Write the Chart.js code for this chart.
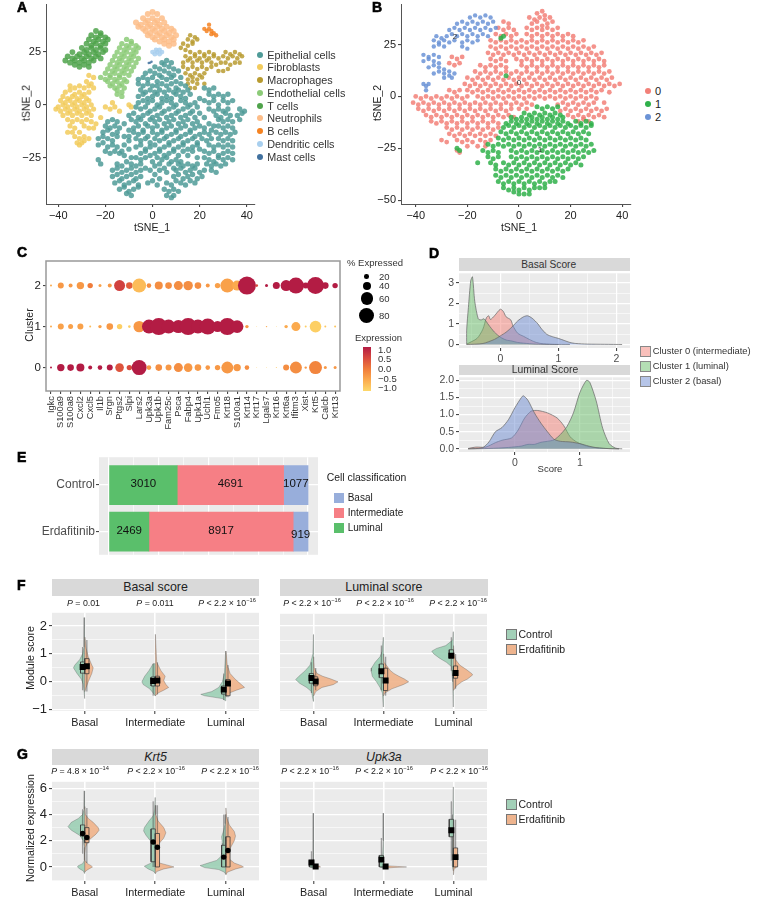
<!DOCTYPE html>
<html>
<head>
<meta charset="utf-8">
<title>Panels</title>
<script src="https://cdn.jsdelivr.net/npm/chart.js@4/dist/chart.umd.min.js"></script>
<style>
  html,body{margin:0;padding:0;background:#fff;}
  #page{position:relative;width:764px;height:901px;overflow:hidden;font-family:"Liberation Sans",Arial,sans-serif;}
  #page canvas{position:absolute;}
  .t{position:absolute;white-space:nowrap;line-height:1;}
  .t sup{font-size:.65em;line-height:0;}
  .box{position:absolute;}
</style>
</head>
<body>
<div id="page"></div>
<script>
// ---- panel A : tSNE by cell type (x,y pairs)
const cellTypes = ['Epithelial cells','Fibroblasts','Macrophages','Endothelial cells','T cells','Neutrophils','B cells','Dendritic cells','Mast cells'];
const cellColors = ['#4f9b98','#f2cb5c','#b89b30','#8ccb78','#4fa34b','#fdbd88','#f58322','#a8cfee','#41719f'];
const epithelialPts = [
4,20,6,21,8,20,
1,18,3,17,5,19,7,18,9,17,
-3,15,-1,16,1,15,3,14,5,16,7,15,9,14,11,16,
-6,12,-4,13,-2,12,0,13,2,11,4,13,6,12,8,13,10,11,12,13,
-6,10,-4,9,-2,10,0,9,2,9,4,10,6,9,8,10,10,8,12,10,14,9,
-5,7,-3,6,-1,7,1,6,3,7,5,6,7,7,9,6,11,7,13,6,15,7,22,8,24,7,26,8,
-6,4,-4,5,-2,3,0,4,2,5,4,3,6,4,8,3,10,5,12,4,14,3,16,5,24,5,26,4,28,5,30,4,32,5,
-6,1,-4,2,-2,1,0,2,2,0,4,1,6,2,8,1,10,0,12,2,14,1,16,0,22,2,24,1,26,2,28,0,30,2,32,1,34,2,
-7,-1,-5,-2,-3,-1,-1,-3,1,-2,3,-1,5,-3,7,-2,9,-1,11,-3,13,-2,15,-1,17,-3,24,-2,26,-3,28,-2,30,-3,32,-2,37,-2,39,-3,
-10,-5,-8,-4,-6,-6,-4,-5,-2,-4,0,-6,2,-5,4,-4,6,-6,8,-5,10,-4,12,-6,14,-5,16,-4,18,-6,27,-5,29,-6,31,-4,33,-5,36,-5,38,-4,
-19,-8,-17,-7,-15,-8,-9,-7,-7,-8,-5,-7,-3,-9,-1,-7,1,-8,3,-7,5,-9,7,-8,9,-7,11,-9,13,-8,15,-7,17,-9,19,-8,28,-7,30,-8,32,-7,34,-8,37,-7,
-20,-10,-18,-11,-16,-10,-14,-11,-8,-11,-6,-10,-4,-12,-2,-10,0,-11,2,-10,4,-12,6,-11,8,-10,10,-12,12,-11,14,-10,16,-12,18,-11,20,-10,28,-10,30,-11,32,-10,34,-11,
-21,-13,-19,-12,-17,-14,-15,-13,-8,-13,-6,-14,-4,-13,-2,-15,0,-13,2,-14,4,-13,6,-15,8,-14,10,-13,12,-15,14,-14,16,-13,18,-15,20,-14,22,-13,24,-14,27,-13,29,-14,31,-13,33,-14,35,-13,
-23,-16,-21,-15,-19,-16,-17,-17,-15,-15,-7,-16,-5,-17,-3,-16,-1,-18,1,-16,3,-17,5,-16,7,-18,9,-17,11,-16,13,-18,15,-17,17,-16,19,-18,21,-16,23,-17,25,-16,28,-16,30,-17,32,-16,34,-17,
-23,-19,-21,-18,-19,-20,-17,-19,-15,-20,-7,-20,-5,-19,-3,-21,-1,-20,1,-19,3,-21,5,-20,7,-19,9,-21,11,-20,13,-19,15,-21,17,-20,19,-19,24,-19,26,-20,28,-19,30,-20,32,-19,34,-20,
-20,-22,-18,-23,-16,-22,-14,-23,-5,-23,-3,-22,-1,-24,1,-23,3,-22,5,-24,7,-23,9,-22,11,-24,22,-22,24,-23,26,-22,28,-24,30,-23,32,-22,34,-23,
-23,-26,-22,-28,-7,-25,-5,-26,-3,-25,0,-27,2,-25,4,-26,6,-25,8,-27,10,-26,22,-25,24,-26,26,-27,28,-25,30,-26,32,-25,34,-26,
-15,-28,-13,-29,-11,-27,-9,-28,-7,-29,-5,-28,1,-29,3,-28,5,-30,7,-28,11,-28,13,-29,15,-28,17,-29,19,-28,23,-28,25,-29,27,-28,29,-29,31,-28,
-17,-31,-15,-30,-13,-32,-11,-31,-9,-30,-7,-32,-5,-31,-3,-30,3,-31,6,-32,10,-31,12,-30,14,-32,16,-31,18,-30,20,-32,22,-31,25,-31,27,-32,
-17,-34,-15,-33,-13,-35,-11,-34,-9,-33,-7,-35,-5,-34,9,-34,11,-33,13,-35,15,-34,17,-33,19,-35,21,-34,
-16,-37,-14,-36,-12,-38,-10,-37,-8,-36,-6,-38,6,-37,8,-38,10,-36,12,-37,14,-38,16,-36,18,-37,
-14,-40,-12,-39,-10,-41,-8,-40,-6,-39,5,-40,7,-41,9,-40,11,-41,
-11,-42,-9,-43,6,-43,8,-44,9,-43,
-12,-9,-10,-12,-12,-15,-10,-17,-12,-19,-10,-21,-12,-24,-9,-25,-10,-15,-13,-22,
20,-4,22,-6,24,-9,26,-10,22,-11,25,-12,13,-22,15,-24,17,-22,19,-25,20,-21,
18,1,20,3,19,-1,-1,-31,1,-33,0,-36,3,-35,-2,-37,2,-38,12,-27,9,-30
];
const fibroblastPts = [
-27,14,-25,13,-28,11,-26,10,-35,9,-33,8,-31,9,-29,8,-27,9,-25,8,
-37,6,-35,7,-33,5,-31,6,-29,5,-27,6,-38,4,-36,3,-34,4,-32,3,-30,4,-28,3,
-39,2,-37,1,-35,2,-33,1,-31,2,-29,1,-27,2,-40,-1,-38,0,-36,-1,-34,0,-32,-1,-30,0,-28,-1,-26,0,
-41,-2,-39,-3,-37,-2,-35,-3,-33,-2,-31,-3,-29,-2,-27,-3,-25,-2,-38,-5,-36,-4,-34,-5,-32,-4,-30,-5,-28,-4,-26,-5,
-36,-7,-34,-8,-32,-7,-30,-8,-28,-7,-26,-8,-24,-9,-35,-10,-33,-11,-29,-10,-27,-11,-25,-11,
-36,-13,-34,-13,-31,-13,-33,-15,-31,-16,-29,-15,-27,-16,-32,-18,-30,-18,-29,-17,-31,-19,
-18,-2,-16,-1,-17,1,-10,0,-9,-1,-14,-3,-20,-1,-22,-6
];
const macrophagePts = [
16,33,18,32,15,31,17,30,19,31,13,29,15,28,17,29,12,27,14,26,
16,25,18,24,20,25,22,24,24,25,26,24,31,25,33,24,35,25,37,24,
14,23,16,22,18,23,20,22,22,23,24,22,26,23,28,22,30,23,32,22,34,23,36,22,38,23,
13,20,15,21,17,20,19,21,21,20,23,21,25,20,27,19,29,20,31,20,33,19,35,20,37,20,
13,18,15,17,17,18,19,17,21,18,23,17,25,18,28,16,30,16,32,17,
14,15,16,14,18,15,20,14,22,15,15,12,17,13,19,12,21,13,15,10,17,11,19,10,22,10,16,8,18,8
];
const endothelialPts = [
-11,31,-9,30,-13,29,-11,28,-9,29,-7,28,-14,27,-12,26,-10,27,-8,26,-6,27,
-15,25,-13,24,-11,25,-9,24,-7,25,-16,23,-14,22,-12,23,-10,22,-8,23,-6,22,
-17,21,-15,20,-13,21,-11,20,-9,21,-7,20,-18,19,-16,18,-14,19,-12,18,-10,19,-8,18,
-19,17,-17,16,-15,17,-13,16,-11,17,-9,16,-20,15,-18,14,-16,15,-14,14,-12,15,-10,14,
-22,13,-20,12,-18,13,-16,12,-14,13,-12,12,-19,11,-17,10,-15,11,-13,10,-11,11,
-18,9,-16,8,-14,9,-12,8,-15,7,-13,6,-15,5,-13,4
];
const tCellPts = [
-24,35,-22,34,-26,33,-24,32,-22,33,-20,32,-27,31,-25,30,-23,31,-21,30,-19,31,
-28,29,-26,28,-24,29,-22,28,-20,29,-30,27,-28,26,-26,27,-24,26,-22,27,-20,26,
-34,25,-31,24,-29,25,-27,24,-25,25,-23,24,-21,25,-36,23,-34,22,-32,23,-30,22,-28,23,-26,22,-24,23,-22,22,
-37,21,-35,20,-33,21,-31,20,-29,21,-27,20,-25,21,-33,19,-31,18,-29,19,-27,18
];
const neutrophilPts = [
-2,43,0,44,2,43,-4,41,-2,40,0,41,2,40,4,41,-7,39,-5,38,-3,39,-1,38,1,39,3,38,5,39,
-6,37,-4,36,-2,37,0,36,2,37,4,36,6,37,8,36,-3,35,-1,34,1,35,3,34,5,35,7,34,9,35,
-2,33,0,32,2,33,4,32,6,33,8,32,10,33,1,31,3,30,5,31,7,30,9,31,5,29,7,28,9,29
];
const bCellPts = [22,36,24,38,24,36,23,35,25,35,26,34,27,33,25,33.5];
const dendriticPts = [0,25,1,24,2,25,3,26,4,25,1.5,26,3,24];
const mastPts = [-1,20,-1.6,19.8,-0.4,20.4];

// ---- panel B : tSNE by cluster
const clusterNames = ['0','1','2'];
const clusterColors = ['#f28078','#2fb04a','#6b93d6'];
const cluster0Pts = [
7,40,9,41,10,39,4,38,6,37,8,38,10,37,12,38,-6,36,-4,35,5,35,7,36,9,34,11,35,13,36,
-8,33,-6,32,-4,33,-2,32,3,33,5,32,7,33,9,32,11,33,13,32,15,33,
-9,30,-7,29,-5,30,-3,29,-1,30,3,30,5,29,7,30,9,29,11,30,13,29,15,30,17,29,19,30,21,29,
-11,27,-9,26,-7,27,-5,26,-3,27,-1,26,1,27,3,26,5,27,7,26,9,27,11,26,13,27,15,26,17,27,19,26,21,27,23,26,25,27,
-11,24,-9,23,-7,24,-5,23,-3,24,-1,23,1,24,3,23,5,24,7,23,9,24,11,23,13,24,15,23,17,24,19,23,21,24,23,23,25,24,27,23,29,24,
-12,21,-10,20,-8,21,-6,20,-4,21,-2,20,0,21,2,20,4,21,6,20,8,21,10,20,12,21,14,20,16,21,18,20,20,21,22,20,24,21,26,20,28,21,30,20,32,21,
-26,19,-24,18,-22,19,-11,18,-9,17,-7,18,-5,17,-1,18,1,17,3,18,5,17,7,18,9,17,11,18,13,17,15,18,17,17,19,18,21,17,23,18,25,17,27,18,29,17,31,18,33,17,
-27,16,-25,15,-23,16,-15,15,-13,14,-11,15,-9,14,-7,15,-5,14,1,15,3,14,5,15,7,14,9,15,11,14,13,15,15,14,17,15,19,14,21,15,23,14,25,15,27,14,29,15,31,14,33,15,
-17,12,-15,11,-13,12,-11,11,-9,12,-7,11,-5,12,-3,11,-1,12,1,11,3,12,5,11,7,12,9,11,11,12,13,11,15,12,17,11,19,12,21,11,23,12,25,11,27,12,29,11,31,12,33,11,35,12,
-20,9,-18,8,-16,9,-14,8,-12,9,-10,8,-8,9,-6,8,-4,9,-2,8,0,9,2,8,4,9,6,8,8,9,10,8,12,9,14,8,16,9,18,8,20,9,22,8,24,9,26,8,28,9,30,8,32,9,34,8,36,9,
-21,6,-19,5,-17,6,-15,5,-13,6,-11,5,-9,6,-7,5,-5,6,-3,5,-1,6,1,5,3,6,5,5,7,6,9,5,11,6,13,5,15,6,17,5,19,6,21,5,23,6,25,5,27,6,29,5,31,6,33,5,35,6,37,5,39,6,
-27,3,-25,2,-23,3,-20,3,-18,2,-16,3,-14,2,-12,3,-10,2,-8,3,-6,2,-4,3,-2,2,0,3,2,2,4,3,6,2,8,3,10,2,12,3,14,2,16,3,18,2,20,3,22,2,24,3,26,2,28,3,30,2,32,3,35,2,
-40,0,-38,-1,-36,0,-34,-1,-32,0,-30,-1,-28,0,-26,-1,-24,0,-22,-1,-20,0,-16,0,-14,-1,-12,0,-10,-1,-8,0,-6,-1,-4,0,-2,-1,0,0,2,-1,4,0,6,-1,8,0,10,-1,12,0,14,-1,16,0,18,-1,20,0,22,-1,24,0,26,-1,28,0,30,-1,
-41,-3,-39,-4,-37,-3,-35,-4,-33,-3,-31,-4,-29,-3,-27,-4,-25,-3,-23,-4,-21,-3,-19,-4,-17,-3,-15,-4,-13,-3,-11,-4,-9,-3,-7,-4,-5,-3,-3,-4,-1,-3,1,-4,3,-3,5,-4,15,-4,17,-3,19,-4,21,-3,23,-4,25,-3,27,-4,29,-3,33,-3,
-39,-6,-37,-7,-35,-6,-33,-7,-31,-6,-29,-7,-27,-6,-25,-7,-23,-6,-21,-7,-19,-6,-17,-7,-15,-6,-13,-7,-11,-6,-9,-7,-7,-6,-5,-7,-3,-6,0,-6,3,-6,16,-7,18,-6,20,-7,22,-6,24,-7,26,-6,28,-7,30,-6,32,-7,34,-6,
-36,-9,-34,-10,-32,-9,-30,-10,-28,-9,-26,-10,-24,-9,-22,-10,-20,-9,-18,-10,-16,-9,-14,-10,-12,-9,-10,-10,-8,-9,-6,-10,-4,-9,-2,-10,19,-9,21,-10,23,-9,25,-10,27,-9,29,-10,31,-9,33,-10,
-34,-12,-32,-13,-30,-12,-28,-13,-26,-12,-24,-13,-22,-12,-20,-13,-18,-12,-16,-13,-14,-12,-12,-13,-10,-12,-8,-13,23,-12,25,-11,27,-12,
-28,-15,-26,-16,-24,-15,-22,-16,-20,-15,-18,-16,-16,-15,-14,-16,-12,-15,-10,-16,-8,-15,
-27,-18,-25,-19,-23,-18,-21,-19,-19,-18,-17,-19,-15,-18,-13,-19,-11,-18,-9,-19,
-30,-21,-28,-22,-24,-21,-22,-22,-20,-21,-18,-22,-15,-21,-13,-22,-11,-21,-20,-24,-16,-24,-13,-24,
-24,-26,-23,-27
];
const cluster1Pts = [
7,-5,9,-6,11,-5,13,-6,15,-5,2,-8,4,-9,6,-8,8,-9,10,-8,12,-9,14,-8,16,-9,
-3,-10,-1,-11,1,-10,3,-11,5,-10,7,-11,9,-10,11,-11,13,-10,15,-11,17,-10,
-5,-13,-3,-12,-1,-13,1,-12,3,-13,5,-12,7,-13,9,-12,11,-13,13,-12,15,-13,17,-12,19,-13,22,-12,24,-13,26,-12,28,-13,
-6,-15,-4,-14,-2,-15,0,-14,2,-15,4,-14,6,-15,8,-14,10,-15,12,-14,14,-15,16,-14,18,-15,20,-14,22,-15,24,-14,26,-15,28,-14,
-7,-17,-5,-18,-3,-17,-1,-18,1,-17,3,-18,5,-17,7,-18,9,-17,11,-18,13,-17,15,-18,17,-17,19,-18,21,-17,23,-18,25,-17,27,-18,
-8,-20,-6,-21,-4,-20,-2,-21,0,-20,2,-21,4,-20,6,-21,8,-20,10,-21,12,-20,14,-21,16,-20,18,-21,20,-20,22,-21,24,-20,26,-21,
-12,-23,-10,-24,-8,-23,-6,-24,-4,-23,-2,-24,0,-23,2,-24,4,-23,6,-24,8,-23,10,-24,12,-23,14,-24,16,-23,18,-24,20,-23,22,-24,24,-23,26,-24,28,-23,
-14,-26,-12,-27,-10,-26,-8,-27,-3,-26,-1,-27,1,-26,3,-27,5,-26,7,-27,9,-26,11,-27,13,-26,15,-27,17,-26,19,-27,21,-26,23,-27,25,-26,27,-27,29,-26,
-12,-29,-10,-30,-8,-29,-3,-29,-1,-30,1,-29,3,-30,5,-29,7,-30,9,-29,11,-30,13,-29,15,-30,17,-29,19,-30,21,-29,23,-30,25,-29,
-11,-32,-9,-33,-6,-32,-4,-33,-2,-32,0,-33,2,-32,4,-33,6,-32,8,-33,10,-32,12,-33,14,-32,16,-33,18,-32,20,-33,22,-32,24,-33,
-9,-35,-7,-36,-5,-35,-3,-36,-1,-35,1,-36,3,-35,5,-36,7,-35,9,-36,11,-35,13,-36,15,-35,17,-36,19,-35,
-9,-38,-7,-39,-5,-38,-3,-39,-1,-38,1,-39,3,-38,5,-39,7,-38,9,-39,11,-38,13,-39,15,-38,17,-39,
-8,-41,-6,-42,-4,-41,-2,-42,0,-41,2,-42,4,-41,6,-42,8,-41,10,-42,12,-41,14,-41,
-6,-44,-4,-45,-2,-44,0,-45,2,-44,4,-45,6,-44,8,-44,10,-44,-2,-46,0,-47,2,-47,4,-47,
-24,-25,-23,-26,-16,-32,-7,28,-6,29,-5,10
];
const cluster2Pts = [
-19,38,-17,39,-15,38,-13,39,-11,38,-24,35,-22,36,-20,35,-18,36,-16,35,-14,36,-12,35,-10,36,
-27,32,-25,33,-23,32,-21,33,-19,32,-17,33,-15,32,-13,33,-11,32,-9,33,
-32,29,-30,28,-28,29,-26,30,-24,29,-22,30,-20,29,-18,30,-16,29,-14,30,-12,29,
-33,27,-31,26,-29,27,-27,26,-25,27,-22,26,-20,27,-18,26,-16,27,-33,24,-31,25,-29,24,-22,24,-20,23,
-37,20,-35,19,-33,20,-31,19,-37,17,-35,18,-33,17,-31,16,-35,14,-33,15,-31,14,-29,13,
-33,11,-31,12,-29,11,-27,12,-25,11,-29,9,-27,10,-26,9,-37,6,-36,5,-35,6,-36,3
];

// ---- panel C : dot plot
const genes = ['Igkc','S100a9','S100a8','Cxcl2','Cxcl5','Il1b','Srgn','Ptgs2','Slpi','Lars2','Upk3a','Upk1b','Fam25c','Psca','Fabp4','Upk1a','Uchl1','Fmo5','Krt18','S100a1','Krt14','Krt17','Lgals7','Krt16','Krt6a','Ifitm3','Xist','Krt5','Calcb','Krt13'];
const pct0 = [7,34,30,37,17,20,27,40,24,72,20,30,27,42,40,30,20,24,57,34,20,1,1,2,27,57,9,62,12,12];
const expr0 = [1,1,1,1,1,1,1,.4,.5,1,-.3,-.2,-.3,-.2,-.3,-.3,-.3,-.3,-.3,-.3,-.2,-.9,-.9,-.8,-.2,-.2,-.3,-.1,-.3,-.3];
const pct1 = [7,27,22,27,7,14,30,24,10,54,67,82,67,62,82,67,77,52,82,60,14,1,4,1,14,42,7,55,7,7];
const expr1 = [-.5,-.4,-.4,-.4,-.7,-.4,-.3,-.9,-.9,-.3,1,1,1,1,1,1,1,1,1,1,-.3,-.9,-.5,-.9,-.5,-.5,-.9,-.9,-.8,-.8];
const pct2 = [7,27,17,34,24,12,17,52,30,67,20,37,30,42,44,30,17,24,67,47,87,10,12,32,52,77,27,82,30,24];
const expr2 = [-.5,-.3,-.3,-.3,0,-.4,-.3,.6,.3,-.7,-.2,-.2,-.2,-.2,-.2,-.2,-.3,-.4,-.4,-.5,1,.5,1,1,1,1,1,1,1,1];

// ---- panel D : densities
const basalRed = [[-.58,.02],[-.4,.3],[-.3,.75],[-.24,1.3],[-.2,1.4],[-.17,1.22],[-.1,1.4],[0,1.72],[.05,1.62],[.1,1.35],[.18,1.2],[.22,.9],[.3,.55],[.4,.4],[.5,.25],[.6,.12],[.7,.05],[.9,.01],[1.2,0]];
const basalGreen = [[-.58,0],[-.58,.7],[-.55,1.8],[-.51,3.1],[-.48,3.3],[-.44,2.1],[-.38,1.25],[-.33,1.2],[-.28,1.25],[-.2,.95],[-.1,.6],[0,.36],[.1,.22],[.2,.17],[.3,.1],[.5,.04],[.7,.01],[1,0]];
const basalBlue = [[-.58,0],[-.3,.05],[-.1,.25],[0,.42],[.1,.6],[.2,.85],[.3,1.15],[.4,1.35],[.47,1.4],[.55,1.28],[.65,1],[.7,.8],[.8,.5],[.9,.38],[1,.3],[1.1,.2],[1.2,.1],[1.3,.05],[1.5,.02],[1.8,.01],[2.1,0]];
const lumRed = [[-.72,.01],[-.6,.05],[-.45,.05],[-.3,.18],[-.2,.25],[-.05,.32],[.05,.55],[.15,.9],[.25,1.1],[.35,1.12],[.5,1.05],[.65,.9],[.75,.68],[.85,.35],[.95,.2],[1.1,.08],[1.3,.02],[1.6,0]];
const lumGreen = [[-.72,0],[-.4,.01],[-.1,.04],[.1,.08],[.2,.13],[.3,.13],[.4,.19],[.5,.22],[.6,.26],[.7,.42],[.8,.65],[.9,1.05],[1,1.65],[1.1,2],[1.15,1.95],[1.25,1.4],[1.35,.6],[1.45,.15],[1.55,.02],[1.65,0]];
const lumBlue = [[-.72,0],[-.5,.03],[-.4,.2],[-.3,.5],[-.2,.62],[-.1,.85],[0,1.2],[.1,1.5],[.13,1.55],[.2,1.42],[.3,1.05],[.4,.75],[.5,.5],[.6,.28],[.7,.22],[.85,.2],[1,.15],[1.2,.05],[1.4,.01],[1.6,0]];
const clusterLegend = ['Cluster 0 (intermediate)','Cluster 1 (luminal)','Cluster 2 (basal)'];

// ---- panel E : stacked bars
const conditions = ['Control','Erdafitinib'];
const luminalCounts = [3010,2469];
const intermediateCounts = [4691,8917];
const basalCounts = [1077,919];

// ---- panels F, G : split violins as [y, half width] and boxes as [q1, mean, q3, low, high]
const groups = ['Basal','Intermediate','Luminal'];
const fBasalViolins = [
 [[2.3,.003],[1.25,.01],[1,.03],[.8,.07],[.6,.14],[.5,.16],[.3,.11],[.1,.05],[-.1,.02],[-.4,.008],[-.6,.002]],
 [[1.6,.003],[1.2,.02],[.9,.05],[.6,.1],[.5,.12],[.3,.1],[0,.05],[-.2,.02],[-.35,.003]],
 [[.65,.03],[.4,.09],[.2,.15],[0,.19],[-.1,.17],[-.25,.08],[-.4,.03],[-.5,.003]],
 [[1.7,.002],[.7,.02],[.4,.08],[.2,.14],[.05,.12],[-.1,.15],[-.2,.19],[-.3,.12],[-.4,.04],[-.5,.003]],
 [[1.1,.002],[.3,.02],[0,.05],[-.2,.1],[-.35,.2],[-.45,.355],[-.5,.3],[-.6,.05],[-.68,.003]],
 [[1.1,.002],[.6,.02],[.3,.06],[.1,.13],[-.1,.22],[-.2,.265],[-.3,.15],[-.4,.05],[-.5,.01],[-.55,.002]]
];
const fBasalBoxes = [[.31,.53,.71,-.3,1.25],[.29,.56,.83,-.35,1.5],[-.15,.03,.17,-.5,.65],[-.15,.05,.2,-.45,.7],[-.44,-.28,-.15,-.65,.3],[-.5,-.06,.08,-.55,.6]];
const fLuminalViolins = [
 [[1.7,.002],[1,.01],[.6,.05],[.4,.12],[.2,.21],[.08,.256],[-.05,.2],[-.2,.1],[-.35,.03],[-.7,.003]],
 [[.9,.003],[.5,.01],[.3,.05],[.2,.13],[.1,.25],[0,.35],[-.1,.28],[-.2,.12],[-.35,.03],[-.5,.003]],
 [[1.6,.003],[1.1,.02],[.9,.05],[.7,.12],[.5,.17],[.38,.175],[.2,.16],[0,.1],[-.2,.05],[-.4,.015],[-.9,.003]],
 [[1,.003],[.7,.01],[.4,.1],[.3,.15],[.2,.22],[.1,.3],[0,.36],[-.1,.28],[-.25,.12],[-.4,.02],[-.5,.003]],
 [[1.8,.003],[1.5,.01],[1.3,.11],[1.2,.24],[1.1,.31],[1,.28],[.85,.2],[.7,.1],[.55,.03],[.3,.02],[0,.01],[-.9,.002]],
 [[1.3,.003],[1,.01],[.8,.03],[.6,.09],[.45,.18],[.3,.26],[.25,.275],[.1,.2],[0,.12],[-.15,.04],[-.3,.005]]
];
const fLuminalBoxes = [[-.05,.14,.3,-.4,.7],[-.14,.01,.18,-.3,.5],[.15,.38,.64,-.3,1.3],[-.31,.05,.49,-.5,.9],[.84,.94,1.15,.4,1.6],[.13,.32,.57,-.25,1]];
const gKrt5Violins = [
 [[5.8,.002],[4.4,.008],[4,.03],[3.7,.09],[3.4,.19],[3.07,.237],[2.8,.19],[2.4,.07],[2,.02],[1.5,.006],[1,.004],[.5,.005],[.25,.03],[.1,.09],[0,.104],[-.15,.07],[-.3,.02],[-.5,.002]],
 [[4.6,.002],[4,.01],[3.7,.05],[3.4,.12],[3,.19],[2.8,.204],[2.5,.16],[2,.05],[1.5,.01],[1,.003],[.5,.005],[.25,.04],[.1,.09],[0,.11],[-.15,.06],[-.3,.015],[-.4,.002]],
 [[5.3,.002],[4.4,.01],[3.9,.03],[3.5,.09],[3,.155],[2.75,.166],[2.4,.13],[2,.07],[1.5,.02],[1,.01],[.5,.02],[.25,.08],[.05,.156],[-.15,.1],[-.35,.02],[-.5,.002]],
 [[4.7,.002],[4,.008],[3.5,.04],[3,.12],[2.6,.15],[2.2,.12],[1.7,.04],[1.2,.01],[.7,.01],[.3,.06],[.1,.2],[0,.265],[-.15,.12],[-.35,.02],[-.5,.002]],
 [[4,.002],[3.3,.01],[2.8,.03],[2.3,.06],[1.8,.05],[1.2,.05],[.8,.07],[.5,.13],[.3,.25],[.1,.365],[-.05,.3],[-.2,.1],[-.4,.02],[-.55,.002]],
 [[4.5,.002],[3.8,.01],[3.2,.05],[2.7,.12],[2.35,.137],[2,.12],[1.5,.07],[1,.05],[.6,.05],[.3,.12],[.1,.22],[0,.25],[-.15,.14],[-.4,.02],[-.6,.002]]
];
const gKrt5Boxes = [[2.35,2.55,3.2,1,4.4],[1.85,2.25,3,.3,4.5],[.4,1.9,2.9,0,5],[0,1.5,2.55,0,4.7],[0,.75,1.65,0,4],[0,1.25,2.3,0,3.8]];
const gUpkViolins = [
 [[4.1,.002],[1.5,.004],[.5,.008],[.2,.03],[.05,.06],[-.05,.03],[-.1,.002]],
 [[.6,.002],[.15,.01],[.05,.09],[0,.1],[-.05,.02],[-.1,.002]],
 [[4.1,.002],[2,.004],[1,.012],[.5,.025],[.1,.06],[0,.05],[-.1,.002]],
 [[.5,.002],[.1,.02],[.04,.2],[0,.33],[-.04,.15],[-.1,.002]],
 [[6.1,.002],[4,.008],[2.5,.012],[1,.012],[.2,.012],[0,.02],[-.3,.002]],
 [[3.6,.002],[1.5,.006],[.5,.012],[.1,.03],[0,.04],[-.2,.01],[-.6,.001]]
];
const gUpkBoxes = [[0,.34,.5,0,1.2],[0,.03,.05,0,.1],[0,.56,.88,0,2.2],[0,.03,.05,0,.1],[2.3,2.8,3.63,.5,5],[0,.75,1.45,0,3.6]];

// ---- helpers
const FONT = '"Liberation Sans", Arial, sans-serif';
const page = document.getElementById('page');
Chart.defaults.font.family = FONT;
Chart.defaults.animation = false;

function toPoints(flat){
  const out = [];
  for(let i=0;i<flat.length;i+=2) out.push({x:flat[i],y:flat[i+1]});
  return out;
}
function txt(x,y,html,o={}){
  const d = document.createElement('div');
  d.className='t';
  d.innerHTML=html;
  d.style.left=x+'px';
  d.style.top=y+'px';
  d.style.fontSize=(o.size||10)+'px';
  d.style.color=o.color||'#222';
  if(o.italic) d.style.fontStyle='italic';
  if(o.bold){ d.style.fontWeight='bold'; d.style.webkitTextStroke='.6px #000'; }
  const ax = o.anchor==='start'?'0':(o.anchor==='end'?'-100%':'-50%');
  d.style.transform='translate('+ax+',-50%)'+(o.rot?' rotate('+o.rot+'deg)':'');
  page.appendChild(d);
}
function box(x,y,w,h,css){
  const d=document.createElement('div');
  d.className='box';
  d.style.cssText='left:'+x+'px;top:'+y+'px;width:'+w+'px;height:'+h+'px;'+css;
  page.appendChild(d);
}
// fills the plot area and optionally frames it
const panelPlugin = {
  id:'panel',
  beforeDraw(chart,args,opts){
    if(!opts.bg) return;
    const a=chart.chartArea;
    chart.ctx.fillStyle=opts.bg;
    chart.ctx.fillRect(a.left,a.top,a.right-a.left,a.bottom-a.top);
  },
  afterDraw(chart,args,opts){
    if(!opts.frame) return;
    const a=chart.chartArea;
    chart.ctx.strokeStyle=opts.frame;
    chart.ctx.lineWidth=1.5;
    chart.ctx.strokeRect(a.left,a.top,a.right-a.left,a.bottom-a.top);
  }
};
Chart.register(panelPlugin);

function axis(o){
  const isMajor = v => (o.major||o.ticks).includes(v);
  return {
    type:'linear', min:o.min, max:o.max, reverse:!!o.reverse, stacked:!!o.stacked, offset:false,
    afterBuildTicks(s){ s.ticks=o.ticks.map(v=>({value:v})); },
    afterFit(s){ if(s.isHorizontal()) s.height=o.fit; else s.width=o.fit; },
    border:{display:!!o.line,color:'#555',width:1},
    grid:{
      display:true, offset:false, drawOnChartArea:!!o.grid, color:'#fff',
      lineWidth:c=>(c.tick&&isMajor(c.tick.value))?(o.majorW||1.2):.6,
      tickColor:c=>(c.tick&&isMajor(c.tick.value)&&!o.noMarks)?'#333':'rgba(0,0,0,0)',
      tickLength:o.tick||3, tickWidth:1
    },
    ticks:{
      autoSkip:false, maxRotation:o.rot||0, minRotation:o.rot||0, padding:o.pad===undefined?2:o.pad,
      color:o.color||'#222', font:{family:FONT,size:o.size||11},
      callback:v=>(o.label&&isMajor(v))?o.label(v):''
    }
  };
}
const minusLabel = v => String(v).replace('-','\u2212');

// plot = pixel box of the plot area
function makeChart(plot,ml,mb,config){
  const mr=12, mt=6;
  const c=document.createElement('canvas');
  c.width=plot.r-plot.l+ml+mr;
  c.height=plot.b-plot.t+mt+mb;
  c.style.left=(plot.l-ml)+'px';
  c.style.top=(plot.t-mt)+'px';
  c.style.width=c.width+'px';
  c.style.height=c.height+'px';
  page.appendChild(c);
  config.options=config.options||{};
  config.options.responsive=false;
  config.options.layout={padding:{top:mt,right:mr,left:0,bottom:0}};
  config.options.plugins=Object.assign({legend:{display:false},tooltip:{enabled:false}},config.options.plugins||{});
  return new Chart(c,config);
}
function scatterSet(flat,color,r){
  return {data:toPoints(flat),backgroundColor:color+'d9',pointRadius:r,pointBorderWidth:0,showLine:false};
}

// ---- A
makeChart({l:45.5,t:2,r:255,b:204},40,28,{
  type:'scatter',
  data:{datasets:[
    scatterSet(epithelialPts,cellColors[0],2.7),
    scatterSet(fibroblastPts,cellColors[1],2.6),
    scatterSet(macrophagePts,cellColors[2],2.3),
    scatterSet(endothelialPts,cellColors[3],2.7),
    scatterSet(tCellPts,cellColors[4],2.9),
    scatterSet(neutrophilPts,cellColors[5],3),
    scatterSet(bCellPts,cellColors[6],2.2),
    scatterSet(dendriticPts,cellColors[7],2.4),
    scatterSet(mastPts,cellColors[8],1.2)
  ]},
  options:{scales:{
    x:axis({min:-45.2,max:43.5,ticks:[-40,-20,0,20,40],fit:28,line:true,size:11,label:minusLabel}),
    y:axis({min:-47,max:47.5,ticks:[-25,0,25],fit:40,line:true,size:11,label:minusLabel})
  }}
});
txt(152,227,'tSNE_1',{size:10.5});
txt(26,103,'tSNE_2',{size:10.5,rot:-90});
cellTypes.forEach((name,i)=>{
  const y=54.5+i*12.75;
  box(257,y-3,6,6,'border-radius:50%;background:'+cellColors[i]);
  txt(267.3,y,name,{size:10.8,anchor:'start',color:'#333'});
});

// ---- B
makeChart({l:400.7,t:2,r:631.3,b:204},40,28,{
  type:'scatter',
  data:{datasets:[
    scatterSet(cluster2Pts,clusterColors[2],2.2),
    scatterSet(cluster1Pts,clusterColors[1],2.5),
    scatterSet(cluster0Pts,clusterColors[0],2.4)
  ]},
  options:{scales:{
    x:axis({min:-45.7,max:43.4,ticks:[-40,-20,0,20,40],fit:28,line:true,size:11,label:minusLabel}),
    y:axis({min:-51.8,max:44.2,ticks:[-50,-25,0,25],fit:40,line:true,size:11,label:minusLabel})
  }}
});
txt(519,227,'tSNE_1',{size:10.5});
txt(377,103,'tSNE_2',{size:10.5,rot:-90});
txt(455,37,'2',{size:8,color:'#333'});
txt(519,83,'0',{size:8,color:'#333'});
txt(540,150,'1',{size:8,color:'#333'});
clusterNames.forEach((name,i)=>{
  const y=91.3+i*12.8;
  box(645,y-3,6,6,'border-radius:50%;background:'+clusterColors[i]);
  txt(655,y,name,{size:11,anchor:'start'});
});

// ---- C
const exprStops = [[-1,[253,216,106]],[-.5,[251,170,78]],[0,[240,124,58]],[.5,[216,74,62]],[1,[179,28,68]]];
function exprColor(v){
  for(let i=1;i<exprStops.length;i++){
    if(v<=exprStops[i][0]){
      const a=exprStops[i-1],b=exprStops[i],t=(v-a[0])/(b[0]-a[0]);
      return 'rgb('+a[1].map((c,k)=>Math.round(c+(b[1][k]-c)*t)).join(',')+')';
    }
  }
  return 'rgb(179,28,68)';
}
function dotSet(cluster,pct,expr){
  return {
    data:pct.map((p,i)=>({x:i,y:cluster,r:p*.1+.3})),
    backgroundColor:expr.map(exprColor),
    borderWidth:0
  };
}
makeChart({l:46,t:258,r:340,b:391},30,50,{
  type:'bubble',
  data:{datasets:[dotSet(0,pct0,expr0),dotSet(1,pct1,expr1),dotSet(2,pct2,expr2)]},
  options:{
    plugins:{panel:{frame:'#999'}},
    scales:{
      x:axis({min:-.51,max:29.5,ticks:genes.map((g,i)=>i),fit:50,size:9.3,rot:90,color:'#333',label:v=>genes[v]}),
      y:axis({min:-.57,max:2.6,ticks:[0,1,2],fit:30,size:11.5,label:v=>String(v)})
    }
  }
});
txt(29,325,'Cluster',{size:10.5,rot:-90});
txt(347,263,'% Expressed',{size:9.5,anchor:'start',color:'#333'});
[[20,2.3,276.7],[40,4,285.7],[60,6.2,298.5],[80,7.8,315.5]].forEach(l=>{
  box(366.7-l[1],l[2]-l[1],l[1]*2,l[1]*2,'border-radius:50%;background:#000');
  txt(379,l[2],String(l[0]),{size:9.5,anchor:'start',color:'#333'});
});
txt(355,338,'Expression',{size:9.5,anchor:'start',color:'#333'});
box(363,346.5,8,44,'background:linear-gradient(#b31c44,#d84a3e 25%,#f07c3a 50%,#fbaa4e 75%,#fdd86a)');
[['1.0',349.5],['0.5',358.7],['0.0',368.5],['\u22120.5',378.5],['\u22121.0',388]].forEach(l=>{
  txt(378,l[1],l[0],{size:9.5,anchor:'start',color:'#333'});
});

// ---- D
const dFill = ['rgba(244,130,120,.5)','rgba(105,190,105,.5)','rgba(110,140,210,.5)'];
function densitySets(red,green,blue){
  return [blue,green,red].map((s,i)=>({
    data:s.map(p=>({x:p[0],y:p[1]})),
    showLine:true,pointRadius:0,borderColor:'#666',borderWidth:.7,
    backgroundColor:dFill[2-i],fill:'origin',tension:.25
  }));
}
makeChart({l:459,t:270.7,r:630,b:348.3},30,18,{
  type:'scatter',
  data:{datasets:densitySets(basalRed,basalGreen,basalBlue)},
  options:{plugins:{panel:{bg:'#ebebeb'}},scales:{
    x:axis({min:-.712,max:2.236,ticks:[-.5,0,.5,1,1.5,2],major:[0,1,2],grid:true,fit:18,size:10.5,color:'#4d4d4d',label:v=>String(v)}),
    y:axis({min:-.17,max:3.47,ticks:[0,.5,1,1.5,2,2.5,3],major:[0,1,2,3],grid:true,fit:30,size:10.5,color:'#4d4d4d',label:v=>String(v)})
  }}
});
makeChart({l:459,t:375,r:630,b:452.3},30,18,{
  type:'scatter',
  data:{datasets:densitySets(lumRed,lumGreen,lumBlue)},
  options:{plugins:{panel:{bg:'#ebebeb'}},scales:{
    x:axis({min:-.86,max:1.77,ticks:[-.5,0,.5,1,1.5],major:[0,1],grid:true,fit:18,size:10.5,color:'#4d4d4d',label:v=>String(v)}),
    y:axis({min:-.093,max:2.09,ticks:[0,.25,.5,.75,1,1.25,1.5,1.75,2],major:[0,.5,1,1.5,2],grid:true,fit:30,size:10.5,color:'#4d4d4d',label:v=>v.toFixed(1)})
  }}
});
box(459,257.7,171,13,'background:#d9d9d9');
txt(548.7,265,'Basal Score',{size:10.2,color:'#333'});
box(459,365.3,171,9.7,'background:#d9d9d9');
txt(545,370,'Luminal Score',{size:10.4,color:'#333'});
txt(550,469,'Score',{size:9.5,color:'#333'});
clusterLegend.forEach((name,i)=>{
  const y=350.7+i*15;
  box(640,y-4.5,9,9,'border:.5px solid #888;background:'+dFill[i]);
  txt(652.7,y,name,{size:9.4,anchor:'start',color:'#333'});
});

// ---- E
const eColors = ['#5abf6b','#f67f85','#98aedb'];
const eTotals = conditions.map((c,i)=>luminalCounts[i]+intermediateCounts[i]+basalCounts[i]);
function shareSet(counts,color){
  return {data:counts.map((n,i)=>({x:n/eTotals[i],y:i+1})),backgroundColor:color,barThickness:39,counts:counts};
}
const barLabels = {
  id:'barLabels',
  afterDatasetsDraw(chart){
    const ctx=chart.ctx;
    ctx.fillStyle='#111';
    ctx.font='11.5px '+FONT;
    ctx.textAlign='center';
    ctx.textBaseline='middle';
    chart.data.datasets.forEach((ds,d)=>{
      chart.getDatasetMeta(d).data.forEach((bar,i)=>{
        const p=bar.getCenterPoint();
        ctx.fillText(String(ds.counts[i]),p.x,p.y+(ds.counts[i]===919?4:0)-1);
      });
    });
  }
};
makeChart({l:99,t:455,r:318,b:555},60,8,{
  type:'bar',
  data:{datasets:[shareSet(luminalCounts,eColors[0]),shareSet(intermediateCounts,eColors[1]),shareSet(basalCounts,eColors[2])]},
  options:{
    indexAxis:'y',
    plugins:{panel:{bg:'#ebebeb'}},
    scales:{
      x:axis({min:-.05,max:1.05,stacked:true,ticks:[0,.125,.25,.375,.5,.625,.75,.875,1],major:[0,.25,.5,.75,1],grid:true,fit:8,noMarks:true}),
      y:axis({min:.4,max:2.5,reverse:true,stacked:true,ticks:[1,2],grid:true,fit:60,size:12,color:'#4d4d4d',pad:1,label:v=>conditions[v-1]})
    }
  },
  plugins:[barLabels]
});
txt(326.7,478,'Cell classification',{size:10.4,anchor:'start'});
['Basal','Intermediate','Luminal'].forEach((name,i)=>{
  const y=498+i*15;
  box(333.5,y-5,10,10,'background:'+eColors[2-i]);
  txt(347.7,y,name,{size:10,anchor:'start',color:'#222'});
});

// ---- F, G violins
const violinFill = ['rgba(156,207,181,.9)','rgba(240,178,138,.9)'];
const violinCtrlErd = ['#a3d0b8','#eeb48e'];
function violinChart(plot,violins,boxes,yo,marker,labelY){
  const ds=[];
  violins.forEach((v,i)=>{
    const g=Math.floor(i/2)+1, side=i%2?1:-1;
    const pts=v.map(p=>({x:g+side*p[1],y:p[0]}));
    pts.push({x:g,y:v[v.length-1][0]},{x:g,y:v[0][0]},pts[0]);
    ds.push({data:pts,showLine:true,pointRadius:0,fill:'shape',backgroundColor:violinFill[i%2],borderColor:'rgba(70,70,70,.6)',borderWidth:.5});
  });
  boxes.forEach((b,i)=>{
    const g=Math.floor(i/2)+1, off=(i%2?1:-1)*.03, cx=g+off, hw=.03;
    ds.push({data:[{x:cx,y:b[3]},{x:cx,y:b[4]}],showLine:true,pointRadius:0,borderColor:'rgba(60,60,60,.45)',borderWidth:1.3});
    ds.push({data:[{x:cx-hw,y:b[0]},{x:cx+hw,y:b[0]},{x:cx+hw,y:b[2]},{x:cx-hw,y:b[2]},{x:cx-hw,y:b[0]}],
      showLine:true,pointRadius:0,fill:'shape',backgroundColor:violinFill[i%2],borderColor:'#3c3c3c',borderWidth:.8});
  });
  boxes.forEach((b,i)=>{
    const g=Math.floor(i/2)+1, off=(i%2?1:-1)*.03;
    ds.push({data:[{x:g+off,y:b[1]}],pointStyle:marker,pointRadius:marker==='rect'?4.2:2.7,backgroundColor:'#000',pointBorderWidth:0,showLine:false});
  });
  ds.reverse();
  makeChart(plot,40,26,{
    type:'scatter',
    data:{datasets:ds},
    options:{plugins:{panel:{bg:'#ebebeb'}},scales:{
      x:axis({min:plot.xmin,max:plot.xmax,ticks:[1,2,3],grid:true,majorW:1.6,fit:26,size:10.8,pad:3,label:v=>groups[v-1]}),
      y:axis(Object.assign({grid:true,fit:40,size:13,noMarks:!labelY,label:labelY?minusLabel:null},yo))
    }}
  });
}
function strip(l,r,t,b,html,o){
  box(l,t,r-l,b-t,'background:#d9d9d9');
  txt((l+r)/2,(t+b)/2,html,Object.assign({size:12.4},o||{}));
}
function pvals(list,y,xs){
  list.forEach((p,i)=>txt(xs[i],y,p,{size:8.8}));
}
const P001='<i>P</i> = 0.01', P0011='<i>P</i> = 0.011';
const PTINY='<i>P</i> &lt; 2.2 \u00d7 10<sup>\u221216</sup>';
const PKRT='<i>P</i> = 4.8 \u00d7 10<sup>\u221214</sup>';
const fY = {min:-1.045,max:2.47,ticks:[-1,-.5,0,.5,1,1.5,2],major:[-1,0,1,2]};
const gY = {min:-1.07,max:6.49,ticks:[-1,0,1,2,3,4,5,6],major:[0,2,4,6]};

violinChart({l:52,t:609,r:259,b:711,xmin:.536,xmax:3.47},fBasalViolins,fBasalBoxes,fY,'rect',true);
violinChart({l:280,t:610,r:487.7,b:711,xmin:.52,xmax:3.48},fLuminalViolins,fLuminalBoxes,{min:-1.045,max:2.44,ticks:fY.ticks,major:fY.major},'rect',false);
violinChart({l:52,t:778,r:259,b:881.7,xmin:.536,xmax:3.47},gKrt5Violins,gKrt5Boxes,gY,'circle',true);
violinChart({l:280,t:778,r:487.7,b:881.7,xmin:.52,xmax:3.48},gUpkViolins,gUpkBoxes,gY,'rect',false);

strip(52,259,579,595.7,'Basal score');
strip(280,487.7,579,595.7,'Luminal score');
strip(52,259,749,764.7,'Krt5',{italic:true});
strip(280,487.7,749,764.7,'Upk3a',{italic:true});
pvals([P001,P0011,PTINY],603,[83.5,155,227]);
pvals([PTINY,PTINY,PTINY],603,[312,385,458]);
pvals([PKRT,PTINY,PTINY],771,[80,156,230]);
pvals([PTINY,PTINY,PTINY],771,[310,384,459]);
txt(30,658,'Module score',{size:10.6,rot:-90});
txt(30,828,'Normalized expression',{size:10.6,rot:-90});
[[634,649],[804,819]].forEach(rows=>{
  ['Control','Erdafitinib'].forEach((name,i)=>{
    box(506,rows[i]-5,9,9,'border:.5px solid #777;background:'+violinCtrlErd[i]);
    txt(518.5,rows[i],name,{size:10.5,anchor:'start'});
  });
});

// ---- panel letters
[['A',17,7],['B',372,7],['C',17,252],['D',429,253],['E',17,457],['F',17,585],['G',17,754]].forEach(l=>{
  txt(l[1],l[2],l[0],{size:14,bold:true,anchor:'start',color:'#000'});
});
</script>
</body>
</html>
